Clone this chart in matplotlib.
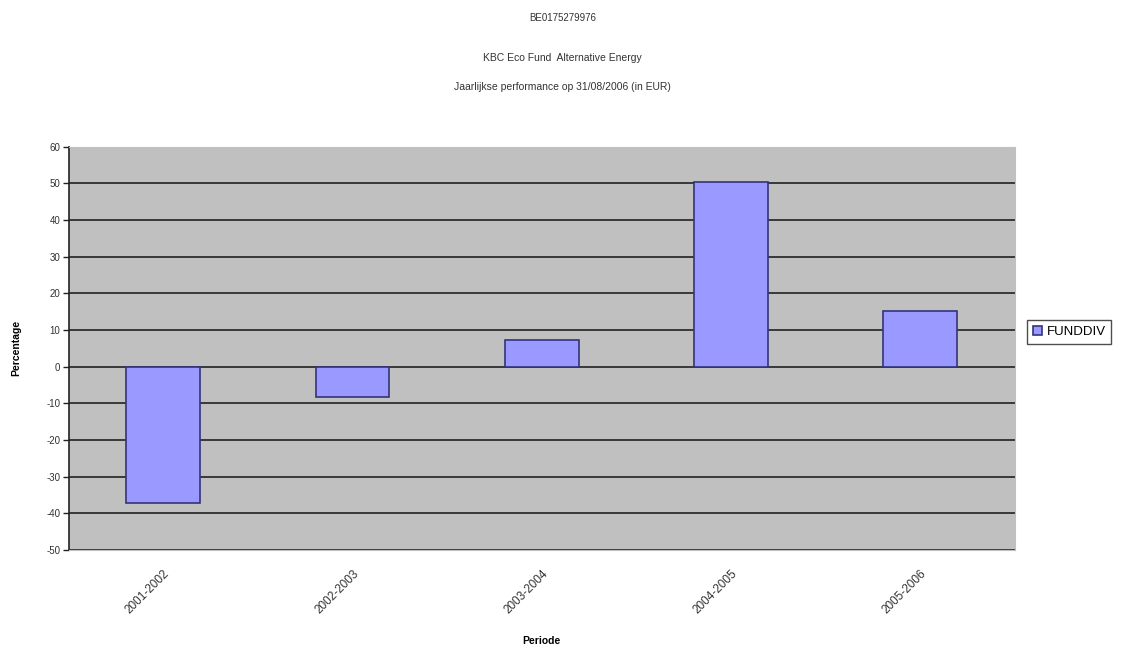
import matplotlib.pyplot as plt
import numpy as np

periods = ["2001-2002", "2002-2003", "2003-2004", "2004-2005", "2005-2006"]
fund_div = [-37.3, -8.4, 7.3, 50.5, 15.3]
y_ticks = list(range(-50, 61, 10))

plt.rcParams["font.family"] = ["Liberation Sans", "DejaVu Sans"]

fig = plt.figure(figsize=(11.25, 6.47), dpi=100)
ax = fig.add_axes([68.7 / 1125, 1 - 550 / 647, (1015 - 68.7) / 1125, (550 - 146.7) / 647])

x = np.arange(len(periods))
ax.set_facecolor("#C0C0C0")
ax.bar(x, fund_div, width=0.39, color="#9999FF", edgecolor="#33337A",
       linewidth=1.2, label="FUNDDIV", zorder=3)

ax.set_xlim(-0.5, len(periods) - 0.5)
ax.set_ylim(-50, 60)
ax.set_yticks(y_ticks)
ax.set_yticklabels([str(t) for t in y_ticks], fontsize=7, color="#333333")
ax.yaxis.grid(True, color="#222222", linewidth=1.2, zorder=1)
ax.set_axisbelow(True)
ax.tick_params(axis="y", length=4, width=1, color="#222222", pad=2)

ax.set_xticks(x)
ax.set_xticklabels(periods, rotation=45, ha="right", rotation_mode="anchor",
                   fontsize=8.5, color="#333333")
ax.tick_params(axis="x", length=0, pad=13)

for side in ["top", "right", "bottom"]:
    ax.spines[side].set_color("#C0C0C0")
ax.spines["left"].set_color("#222222")
ax.spines["left"].set_linewidth(1.2)

ax.set_xlabel("Periode", fontsize=7.5, fontweight="bold", labelpad=14)
ax.set_ylabel("Percentage", fontsize=7.5, fontweight="bold", labelpad=18)

fig.text(0.5, 1 - 18 / 647, "BE0175279976", ha="center", va="center", fontsize=7, color="#333333")
fig.text(0.5, 1 - 58 / 647, "KBC Eco Fund  Alternative Energy", ha="center", va="center",
         fontsize=7.5, color="#333333")
fig.text(0.5, 1 - 87 / 647, "Jaarlijkse performance op 31/08/2006 (in EUR)", ha="center",
         va="center", fontsize=7.5, color="#333333")

leg = ax.legend(loc="center left", bbox_to_anchor=(1.006, 0.54), fontsize=9.5,
                frameon=True, fancybox=False, edgecolor="#222222", handlelength=0.7,
                handleheight=0.7, handletextpad=0.3, borderpad=0.45)
leg.get_frame().set_linewidth(1.0)

fig.savefig("out.png", dpi=100, facecolor="white")
